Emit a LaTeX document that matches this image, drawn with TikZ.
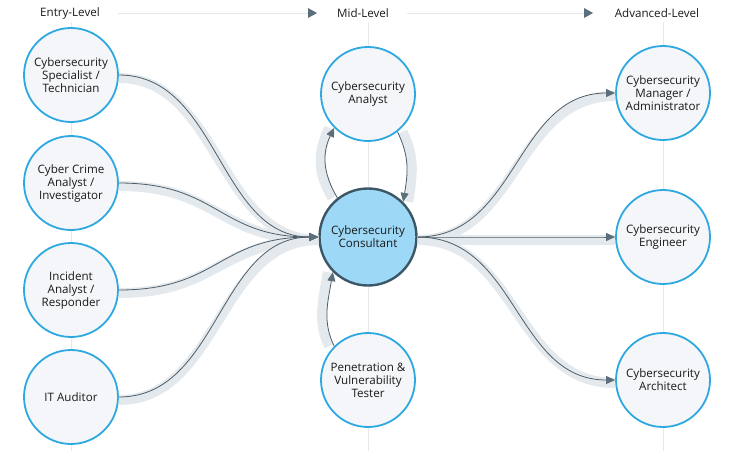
\documentclass[tikz,border=0pt]{standalone}
\usepackage{fontspec}
\setmainfont{Open Sans}
\usetikzlibrary{arrows.meta}
\definecolor{circfill}{HTML}{F4F6F9}
\definecolor{circline}{HTML}{2EA8E0}
\definecolor{consfill}{HTML}{9DD8F7}
\definecolor{consline}{HTML}{3B5766}
\definecolor{bandcol}{HTML}{E4E9ED}
\definecolor{linecol}{HTML}{4E5E69}
\definecolor{tipcol}{HTML}{5B6F7A}
\definecolor{guide}{HTML}{E6E9EC}
\definecolor{txt}{HTML}{1A1A1A}
\tikzset{
  role/.style={circle, draw=circline, fill=circfill, line width=1.8pt, minimum size=94pt, inner sep=0pt, align=center, font=\fontsize{11.6}{13}\selectfont, text=txt},
  hub/.style={role, draw=consline, fill=consfill, line width=2.4pt, minimum size=97pt},
  band/.style={draw=bandcol, line width=10pt},
  flow/.style={draw=linecol, line width=0.8pt, -{Triangle[length=9pt,width=8pt,fill=tipcol,color=tipcol]}},
  head/.style={font=\fontsize{11.6}{13}\selectfont, text=txt, inner sep=0pt},
  hline/.style={draw=guide, line width=1pt},
  htip/.style={fill=tipcol, draw=none}
}
\begin{document}
\begin{tikzpicture}[x=1pt,y=-1pt]
\useasboundingbox (0,0) rectangle (754,451);
% guide lines
\draw[hline] (71,22) -- (71,451);
\draw[hline] (368,22) -- (368,451);
\draw[hline] (663,22) -- (663,451);
% header
\node[head] (h1) at (70,13) {Entry-Level};
\node[head] (h2) at (363,13) {Mid-Level};
\node[head] (h3) at (657,13) {Advanced-Level};
\coordinate (t1) at (313,13);
\coordinate (t2) at (589,13);
\draw[hline] ([xshift=18pt]h1.east) -- (t1);
\draw[hline] ([xshift=18pt]h2.east) -- (t2);
\fill[htip] (308,8) -- (317,13) -- (308,18) -- cycle;
\fill[htip] (584,8) -- (593,13) -- (584,18) -- cycle;
% nodes
\node[role] (spec) at (71,75) {Cybersecurity\\Specialist /\\Technician};
\node[role] (crime) at (71,183) {Cyber Crime\\Analyst /\\Investigator};
\node[role] (inc) at (71,290) {Incident\\Analyst /\\Responder};
\node[role] (aud) at (71,397) {IT Auditor};
\node[role] (ana) at (368,94) {Cybersecurity\\Analyst};
\node[hub] (cons) at (368,237) {Cybersecurity\\Consultant};
\node[role] (pen) at (368,380) {Penetration \&\\Vulnerability\\Tester};
\node[role] (mgr) at (663,93) {Cybersecurity\\Manager /\\Administrator};
\node[role] (eng) at (663,237) {Cybersecurity\\Engineer};
\node[role] (arch) at (663,380) {Cybersecurity\\Architect};
% bands
\begin{scope}[transform canvas={yshift=-3pt}]
\foreach \s in {spec,crime,inc,aud}{
  \draw[band] (\s.east) .. controls +(100,0) and +(-100,0) .. (cons.west);
}
\foreach \t in {mgr,eng,arch}{
  \draw[band] (cons.east) .. controls +(100,0) and +(-100,0) .. (\t.west);
}
\end{scope}
\begin{scope}[transform canvas={xshift=5pt}]
\draw[band] (ana.-52) .. controls +(12,25) and +(5,-30) .. (cons.45);
\end{scope}
\begin{scope}[transform canvas={xshift=-5pt}]
\draw[band] (cons.128) .. controls +(-15,-25) and +(-12,25) .. (ana.225);
\draw[band] (pen.135) .. controls +(-12,-25) and +(-5,30) .. (cons.225);
\end{scope}
% flows
\foreach \s in {spec,crime,inc,aud}{
  \draw[flow] (\s.east) .. controls +(100,0) and +(-100,0) .. (cons.west);
}
\foreach \t in {mgr,eng,arch}{
  \draw[flow] (cons.east) .. controls +(100,0) and +(-100,0) .. (\t.west);
}
\draw[flow] (ana.-52) .. controls +(12,25) and +(5,-30) .. (cons.45);
\draw[flow] (cons.128) .. controls +(-15,-25) and +(-12,25) .. (ana.225);
\draw[flow] (pen.135) .. controls +(-12,-25) and +(-5,30) .. (cons.225);
\end{tikzpicture}
\end{document}
